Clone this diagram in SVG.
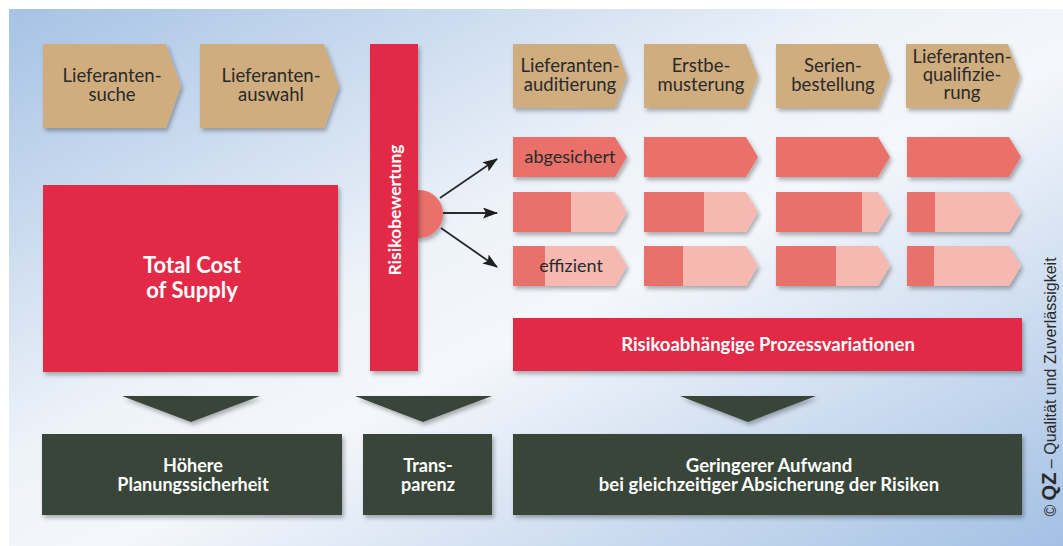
<svg xmlns="http://www.w3.org/2000/svg" width="1063" height="546" viewBox="0 0 1063 546">
<defs>
<linearGradient id="bg" x1="0" y1="0" x2="1" y2="1">
<stop offset="0" stop-color="#a6c2e5"/>
<stop offset="0.42" stop-color="#eef3f9"/>
<stop offset="0.55" stop-color="#f4f7fb"/>
<stop offset="1" stop-color="#a3c0e4"/>
</linearGradient>
<filter id="sh" x="-10%" y="-10%" width="130%" height="140%">
<feDropShadow dx="2" dy="3" stdDeviation="2" flood-color="#000" flood-opacity="0.3"/>
</filter>
<marker id="ah" markerUnits="userSpaceOnUse" markerWidth="15" markerHeight="11" refX="14" refY="5.5" orient="auto">
<path d="M0,0 L15,5.5 L0,11 L3,5.5 Z" fill="#1e1e1e"/>
</marker>
</defs>
<style>
.tan{fill:#cfad7e;filter:url(#sh)}
.red{fill:#e22a47;filter:url(#sh)}
.dk{fill:#e9716b}
.lt{fill:#f6b9b1}
.sal{filter:url(#sh)}
.grn{fill:#374538;filter:url(#sh)}
.tri{fill:#374538;filter:url(#sh)}
.lbl{font-family:Lato,"Open Sans","DejaVu Sans",sans-serif;font-size:18.5px;fill:#2a2a2a;text-anchor:middle}
.sl{font-family:Lato,"Open Sans","DejaVu Sans",sans-serif;font-size:18px;fill:#2a2a2a;text-anchor:middle}
.wb{font-family:Lato,"Open Sans","DejaVu Sans",sans-serif;font-weight:bold;fill:#ffffff;text-anchor:middle}
.con{stroke:#2a2a2a;stroke-width:1.8;fill:none;marker-end:url(#ah)}
</style>
<rect x="9" y="9" width="1054" height="537" fill="url(#bg)"/>

<g id="lieferantensuche">
<path class="tan" d="M43,44 H166 L181,86 L166,128 H43 Z"/>
<text class="lbl" x="112" y="82">Lieferanten-</text>
<text class="lbl" x="112" y="101">suche</text>
</g>
<g id="lieferantenauswahl">
<path class="tan" d="M200,44 H324 L339,86 L324,128 H200 Z"/>
<text class="lbl" x="271" y="82">Lieferanten-</text>
<text class="lbl" x="271" y="101">auswahl</text>
</g>
<g id="lieferantenauditierung">
<path class="tan" d="M513,44 H615 L627,76 L615,108 H513 Z"/>
<text class="lbl" x="570" y="72">Lieferanten-</text>
<text class="lbl" x="570" y="91">auditierung</text>
</g>
<g id="erstbemusterung">
<path class="tan" d="M644,44 H746 L758,76 L746,108 H644 Z"/>
<text class="lbl" x="701" y="72">Erstbe-</text>
<text class="lbl" x="701" y="91">musterung</text>
</g>
<g id="serienbestellung">
<path class="tan" d="M776,44 H878 L890,76 L878,108 H776 Z"/>
<text class="lbl" x="833" y="72">Serien-</text>
<text class="lbl" x="833" y="91">bestellung</text>
</g>
<g id="lieferantenqualifizierung">
<path class="tan" d="M906,44 H1008 L1020,76 L1008,108 H906 Z"/>
<text class="lbl" x="962" y="63">Lieferanten-</text>
<text class="lbl" x="962" y="81">qualifizie-</text>
<text class="lbl" x="962" y="99">rung</text>
</g>

<g id="total-cost-of-supply">
<rect class="red" x="43" y="185" width="295" height="187"/>
<text class="wb" x="192" y="273" font-size="22">Total Cost</text>
<text class="wb" x="192" y="298" font-size="22">of Supply</text>
</g>

<g id="risikobewertung">
<circle cx="419" cy="214" r="24" fill="#e9716b" filter="url(#sh)"/>
<rect class="red" x="370" y="44" width="48" height="327"/>
<text class="wb" font-size="17.5" transform="translate(401,210) rotate(-90)">Risikobewertung</text>
</g>

<g id="variante-abgesichert">
<path class="sal dk" d="M513,137 H615 L627,157 L615,177 H513 Z"/>
<path class="sal dk" d="M644,137 H746 L758,157 L746,177 H644 Z"/>
<path class="sal dk" d="M776,137 H878 L890,157 L878,177 H776 Z"/>
<path class="sal dk" d="M907,137 H1009 L1021,157 L1009,177 H907 Z"/>
<text class="sl" x="570" y="163">abgesichert</text>
</g>
<g id="variante-mittel">
<path class="sal lt" d="M513,192 H615 L627,212 L615,232 H513 Z"/>
<rect class="dk" x="513" y="192" width="58" height="40"/>
<path class="sal lt" d="M644,192 H746 L758,212 L746,232 H644 Z"/>
<rect class="dk" x="644" y="192" width="60" height="40"/>
<path class="sal lt" d="M776,192 H878 L890,212 L878,232 H776 Z"/>
<rect class="dk" x="776" y="192" width="86" height="40"/>
<path class="sal lt" d="M907,192 H1009 L1021,212 L1009,232 H907 Z"/>
<rect class="dk" x="907" y="192" width="28" height="40"/>
</g>
<g id="variante-effizient">
<path class="sal lt" d="M513,246 H615 L627,266 L615,286 H513 Z"/>
<rect class="dk" x="513" y="246" width="32" height="40"/>
<path class="sal lt" d="M644,246 H746 L758,266 L746,286 H644 Z"/>
<rect class="dk" x="644" y="246" width="39" height="40"/>
<path class="sal lt" d="M776,246 H878 L890,266 L878,286 H776 Z"/>
<rect class="dk" x="776" y="246" width="60" height="40"/>
<path class="sal lt" d="M907,246 H1009 L1021,266 L1009,286 H907 Z"/>
<rect class="dk" x="907" y="246" width="27" height="40"/>
<text class="sl" x="571" y="272">effizient</text>
</g>

<g id="prozessvariationen">
<rect class="red" x="513" y="318" width="509" height="53"/>
<text class="wb" x="768" y="351" font-size="18.5">Risikoabhängige Prozessvariationen</text>
</g>

<g id="planungssicherheit">
<rect class="grn" x="42" y="434" width="300" height="81"/>
<text class="wb" x="193" y="472" font-size="18">Höhere</text>
<text class="wb" x="193" y="491" font-size="18">Planungssicherheit</text>
</g>
<g id="transparenz">
<rect class="grn" x="363" y="434" width="129" height="81"/>
<text class="wb" x="428" y="472" font-size="18">Trans-</text>
<text class="wb" x="428" y="491" font-size="18">parenz</text>
</g>
<g id="geringerer-aufwand">
<rect class="grn" x="513" y="434" width="509" height="81"/>
<text class="wb" x="769" y="472" font-size="18.5">Geringerer Aufwand</text>
<text class="wb" x="769" y="491" font-size="18.5">bei gleichzeitiger Absicherung der Risiken</text>
</g>

<g id="connectors">
<line class="con" x1="440" y1="198" x2="497" y2="159"/>
<line class="con" x1="443" y1="213" x2="497" y2="213"/>
<line class="con" x1="441" y1="228" x2="497" y2="267"/>
<path class="tri" d="M122,396 H260 L191,422 Z"/>
<path class="tri" d="M355,396 H492 L423,422 Z"/>
<path class="tri" d="M680,396 H816 L748,422 Z"/>
</g>

<text transform="translate(1056,387) rotate(-90)" font-family="'Liberation Sans',Arial,sans-serif" font-size="16" fill="#2a2a2a" text-anchor="middle">© <tspan font-weight="bold" font-size="20">QZ</tspan> – Qualität und Zuverlässigkeit</text>
</svg>
